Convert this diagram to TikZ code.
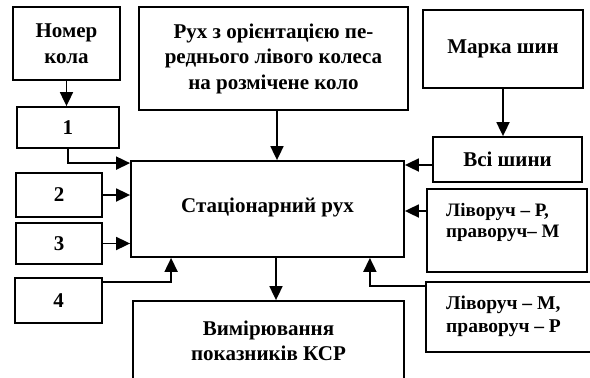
\documentclass[tikz,border=0pt]{standalone}
\usepackage{fontspec}
\setmainfont{Liberation Serif}
\usepackage{tikz}
\usetikzlibrary{arrows.meta}

\begin{document}
\begin{tikzpicture}[x=1pt,y=-1pt,font=\fontsize{21}{25.5}\selectfont\bfseries,
  box/.style={draw,line width=1.8pt,align=center,inner sep=0pt},
  note/.style={anchor=west,align=left,inner sep=0pt},
  arr/.style={line width=1.8pt,-{Triangle[length=14pt,width=13pt]}}]
  \useasboundingbox (0,0) rectangle (590,378);
  % left column
  \node[box,minimum width=107pt,minimum height=73pt] (nomer) at (66.5,43.5) {Номер\\кола};
  \node[box,minimum width=102pt,minimum height=41pt] (one) at (68,127.5) {1};
  \node[box,minimum width=86pt,minimum height=44pt] (two) at (59,195) {2};
  \node[box,minimum width=86pt,minimum height=41pt] (three) at (59,243.5) {3};
  \node[box,minimum width=87pt,minimum height=45pt] (four) at (58.5,300.5) {4};
  % middle column
  \node[box,minimum width=269pt,minimum height=103pt] (ruh) at (273.5,58.5) {Рух з орієнтацією пе-\\реднього лівого колеса\\на розмічене коло};
  \node[box,minimum width=273pt,minimum height=96pt] (stat) at (267.5,209) {\raisebox{7pt}{Стаціонарний рух}};
  \node[box,minimum width=271pt,minimum height=80pt] (vymir) at (268.5,341) {Вимірювання\\показників КСР};
  % right column
  \node[box,minimum width=160pt,minimum height=78pt] (marka) at (503,49) {Марка шин};
  \node[box,minimum width=149pt,minimum height=45pt] (vsi) at (507.5,159.5) {Всі шини};
  \node[box,minimum width=160pt,minimum height=83pt] (livP) at (507,230.5) {};
  \node[note,font=\fontsize{19}{21.5}\selectfont\bfseries] (livPtext) at (446,222.5) {Ліворуч – Р,\\праворуч– М};
  \node[box,minimum width=174pt,minimum height=70pt] (livM) at (513,317) {};
  \node[note,font=\fontsize{19.5}{22.5}\selectfont\bfseries] (livMtext) at (446,316.5) {Ліворуч – М,\\праворуч – Р};
  \coordinate (in4) at ([xshift=41pt]stat.south west);
  \coordinate (inM) at ([xshift=-35pt]stat.south east);

  \draw[arr] (nomer.south) -- (nomer.south |- one.north);
  \draw[arr] (one.south) |- ([yshift=-3pt]stat.north west);
  \draw[arr] (two.east) -- (two.east -| stat.west);
  \draw[arr] (three.east) -- (three.east -| stat.west);
  \draw[arr] ([yshift=-5pt]four.north east) -| (in4);
  \draw[arr] ([xshift=3.5pt]ruh.south) -- ([xshift=3.5pt]ruh.south |- stat.north);
  \draw[arr] ([xshift=8.5pt]stat.south) -- ([xshift=8.5pt]stat.south |- vymir.north);
  \draw[arr] (marka.south) -- (marka.south |- vsi.north);
  \draw[arr] ([yshift=-5.5pt]vsi.west) -- ([yshift=-5.5pt]vsi.west -| stat.east);
  \draw[arr] ([yshift=19.5pt]livP.west) -- ([yshift=19.5pt]livP.west -| stat.east);
  \draw[arr] ([yshift=-5pt]livM.north west) -| (inM);
\end{tikzpicture}
\end{document}
